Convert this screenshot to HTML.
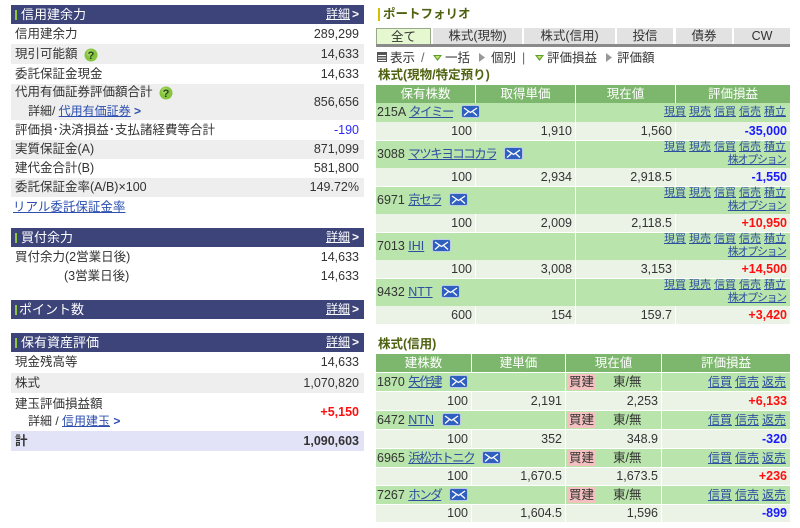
<!DOCTYPE html>
<html><head><meta charset="utf-8">
<style>
*{box-sizing:border-box}
body{margin:0;width:800px;height:528px;background:#fff;position:relative;overflow:hidden;font-family:"Liberation Sans","Noto Sans CJK JP",sans-serif;font-size:12.5px;color:#333}
.a{position:absolute;white-space:nowrap}
.hd{position:absolute;left:11px;width:353px;height:19px;background:#3c4479;color:#fff}
.hd .bar{position:absolute;left:4px;top:5px;width:2px;height:10px;background:#8dc63f}
.hd .t{position:absolute;left:10px;top:0;line-height:19px;font-size:13px}
.hd .d{position:absolute;right:14px;top:0;line-height:19px;font-size:12px;text-decoration:underline}
.hd .c{position:absolute;right:5px;top:0;line-height:19px;font-size:12px;font-weight:bold}
.r{position:absolute;left:11px;width:353px}
.r .l{position:absolute;left:4px;top:0}
.r .v{position:absolute;right:5px;top:0}
.g{background:#eeeeee}
.lk{color:#2c4fb0;text-decoration:underline}
.q{display:inline-block;vertical-align:middle;margin-left:6px}
.tab{position:absolute;top:28px;height:16px;line-height:16px;text-align:center;background:#e2e2e2;font-size:12.5px;color:#333}
.th{position:absolute;height:18px;line-height:18px;background:#7db76d;color:#fff;text-align:center;font-size:12.5px}
.nm{position:absolute;background:#b9e4ab}
.vl{position:absolute;background:#ebf3e7;text-align:right;padding-right:3px;font-size:12.5px}
.nt{position:absolute;left:1px;font-size:12.5px}
.nt .lk{color:#2c4fa0}
.nt .jk{letter-spacing:-1.5px}
.lnk{position:absolute;right:4px;font-size:11px;color:#2c4fa0;text-align:right}
.lnk span{text-decoration:underline;margin-left:3px}
.mail{display:inline-block;vertical-align:middle;margin-left:8px;margin-top:-2px}
.blue{color:#1a1aff;font-weight:bold}
.red{color:#ff1010;font-weight:bold}
.kd{position:absolute;background:#f4c0c0;color:#333;font-size:12.5px;padding:0 1px}
</style></head><body>

<!-- LEFT PANEL -->
<div class="hd" style="top:5px"><div class="bar"></div><div class="t">信用建余力</div><div class="d">詳細</div><div class="c">&gt;</div></div>
<div class="r" style="top:24px;height:20px;line-height:20px"><span class="l">信用建余力</span><span class="v">289,299</span></div>
<div class="r g" style="top:44px;height:20px;line-height:20px"><span class="l">現引可能額<svg class="q" width="14" height="14" viewBox="0 0 14 14"><circle cx="7" cy="7" r="6.5" fill="#86c440"/><circle cx="6" cy="5" r="3.5" fill="#b4e070" opacity=".6"/><text x="7" y="11" text-anchor="middle" font-family="Liberation Sans" font-weight="bold" font-size="11" fill="#24421a">?</text></svg></span><span class="v">14,633</span></div>
<div class="r" style="top:64px;height:20px;line-height:20px"><span class="l">委託保証金現金</span><span class="v">14,633</span></div>
<div class="r g" style="top:84px;height:36px">
 <span class="l" style="top:0;line-height:17px">代用有価証券評価額合計<svg class="q" width="14" height="14" viewBox="0 0 14 14"><circle cx="7" cy="7" r="6.5" fill="#86c440"/><circle cx="6" cy="5" r="3.5" fill="#b4e070" opacity=".6"/><text x="7" y="11" text-anchor="middle" font-family="Liberation Sans" font-weight="bold" font-size="11" fill="#24421a">?</text></svg></span>
 <span class="l" style="left:17px;top:19px;line-height:17px;font-size:12px">詳細/ <span class="lk">代用有価証券</span> <b style="color:#2c4fb0">&gt;</b></span>
 <span class="v" style="line-height:36px">856,656</span></div>
<div class="r" style="top:120px;height:20px;line-height:20px"><span class="l">評価損･決済損益･支払諸経費等合計</span><span class="v" style="color:#2a2aff">-190</span></div>
<div class="r g" style="top:140px;height:19px;line-height:19px"><span class="l">実質保証金(A)</span><span class="v">871,099</span></div>
<div class="r" style="top:159px;height:19px;line-height:19px"><span class="l">建代金合計(B)</span><span class="v">581,800</span></div>
<div class="r g" style="top:178px;height:19px;line-height:19px"><span class="l">委託保証金率(A/B)×100</span><span class="v">149.72%</span></div>
<div class="r" style="top:198px;height:19px;line-height:19px"><span class="l lk" style="left:2px">リアル委託保証金率</span></div>

<div class="hd" style="top:228px"><div class="bar"></div><div class="t">買付余力</div><div class="d">詳細</div><div class="c">&gt;</div></div>
<div class="r" style="top:248px;height:19px;line-height:19px"><span class="l">買付余力(2営業日後)</span><span class="v">14,633</span></div>
<div class="r" style="top:267px;height:19px;line-height:19px"><span class="l" style="left:53px">(3営業日後)</span><span class="v">14,633</span></div>

<div class="hd" style="top:300px"><div class="bar"></div><div class="t" style="left:8px">ポイント数</div><div class="d">詳細</div><div class="c">&gt;</div></div>

<div class="hd" style="top:333px"><div class="bar"></div><div class="t">保有資産評価</div><div class="d">詳細</div><div class="c">&gt;</div></div>
<div class="r" style="top:352px;height:21px;line-height:21px"><span class="l">現金残高等</span><span class="v">14,633</span></div>
<div class="r g" style="top:373px;height:20px;line-height:20px"><span class="l">株式</span><span class="v">1,070,820</span></div>
<div class="r" style="top:393px;height:38px">
 <span class="l" style="line-height:22px">建玉評価損益額</span>
 <span class="l" style="left:17px;top:20px;line-height:17px;font-size:12px">詳細 / <span class="lk">信用建玉</span> <b style="color:#2c4fb0">&gt;</b></span>
 <span class="v red" style="line-height:38px">+5,150</span></div>
<div class="r" style="top:431px;height:20px;line-height:20px;background:#e3e3f8;font-weight:bold"><span class="l">計</span><span class="v">1,090,603</span></div>

<!-- RIGHT PANEL -->
<div class="a" style="left:378px;top:8px;width:2px;height:13px;background:#d4c000"></div>
<div class="a" style="left:383px;top:6px;line-height:17px;font-weight:bold;color:#4e6210;font-size:12.5px">ポートフォリオ</div>

<div class="tab" style="left:376px;width:55px;background:#e6f8d0;border:1px solid #9aa88a;border-bottom:none">全て</div>
<div class="tab" style="left:433px;width:89px">株式(現物)</div>
<div class="tab" style="left:524px;width:91px">株式(信用)</div>
<div class="tab" style="left:617px;width:56px">投信</div>
<div class="tab" style="left:676px;width:56px">債券</div>
<div class="tab" style="left:734px;width:56px">CW</div>
<div class="a" style="left:376px;top:44px;width:414px;height:3px;background:#8a8a8a"></div>

<svg class="a" style="left:377px;top:52px" width="10" height="10" viewBox="0 0 10 10"><rect width="10" height="10" fill="#555"/><path d="M1 3.5H9M1 6H9M1 8.5H9" stroke="#fff" stroke-width="1"/></svg>
<div class="a" style="left:390px;top:50px;line-height:16px">表示</div>
<div class="a" style="left:421px;top:50px;line-height:16px;color:#666">/</div>
<svg class="a" style="left:433px;top:55px" width="9" height="6" viewBox="0 0 9 6"><path d="M0 0H9L4.5 6Z" fill="#5a9e2a"/><path d="M2 1H7L4.5 4Z" fill="#c8e070"/></svg>
<div class="a" style="left:445px;top:50px;line-height:16px">一括</div>
<svg class="a" style="left:479px;top:53px" width="6" height="9" viewBox="0 0 6 9"><path d="M0 0L6 4.5L0 9Z" fill="#999"/></svg>
<div class="a" style="left:491px;top:50px;line-height:16px">個別</div>
<div class="a" style="left:522px;top:50px;line-height:16px;color:#666">|</div>
<svg class="a" style="left:535px;top:55px" width="9" height="6" viewBox="0 0 9 6"><path d="M0 0H9L4.5 6Z" fill="#5a9e2a"/><path d="M2 1H7L4.5 4Z" fill="#c8e070"/></svg>
<div class="a" style="left:547px;top:50px;line-height:16px">評価損益</div>
<svg class="a" style="left:606px;top:53px" width="6" height="9" viewBox="0 0 6 9"><path d="M0 0L6 4.5L0 9Z" fill="#999"/></svg>
<div class="a" style="left:617px;top:50px;line-height:16px">評価額</div>

<div class="a" style="left:378px;top:67px;line-height:17px;font-weight:bold;color:#4e6210">株式(現物/特定預り)</div>

<!-- table 1 header -->
<div class="th" style="left:376px;top:85px;width:99px">保有株数</div>
<div class="th" style="left:476px;top:85px;width:99px">取得単価</div>
<div class="th" style="left:576px;top:85px;width:99px">現在値</div>
<div class="th" style="left:676px;top:85px;width:114px">評価損益</div>

<!-- 215A -->
<div class="nm" style="left:376px;top:103px;width:199px;height:19px"><div class="nt" style="line-height:19px">215A <span class="lk jk">タイミー</span><svg class="mail" width="19" height="13" viewBox="0 0 19 13"><rect x=".5" y=".5" width="18" height="12" rx="2" fill="#2f5fbf" stroke="#b8c8e8"/><path d="M3 3L9.5 7.5L16 3M3 10.5L7.5 6.5M16 10.5L11.5 6.5" stroke="#fff" stroke-width="1.3" fill="none"/></svg></div></div>
<div class="nm" style="left:576px;top:103px;width:214px;height:19px"><div class="lnk" style="line-height:19px"><span>現買</span><span>現売</span><span>信買</span><span>信売</span><span>積立</span></div></div>
<div class="vl" style="left:376px;top:122px;width:99px;height:18px;line-height:18px">100</div>
<div class="vl" style="left:476px;top:122px;width:99px;height:18px;line-height:18px">1,910</div>
<div class="vl" style="left:576px;top:122px;width:99px;height:18px;line-height:18px">1,560</div>
<div class="vl blue" style="left:676px;top:122px;width:114px;height:18px;line-height:18px">-35,000</div>

<!-- 3088 -->
<div class="nm" style="left:376px;top:141px;width:199px;height:27px"><div class="nt" style="line-height:27px">3088 <span class="lk jk">マツキヨココカラ</span><svg class="mail" width="19" height="13" viewBox="0 0 19 13"><rect x=".5" y=".5" width="18" height="12" rx="2" fill="#2f5fbf" stroke="#b8c8e8"/><path d="M3 3L9.5 7.5L16 3M3 10.5L7.5 6.5M16 10.5L11.5 6.5" stroke="#fff" stroke-width="1.3" fill="none"/></svg></div></div>
<div class="nm" style="left:576px;top:141px;width:214px;height:27px"><div class="lnk" style="top:0;line-height:13px"><span>現買</span><span>現売</span><span>信買</span><span>信売</span><span>積立</span><br><span style="letter-spacing:-1.3px">株オプション</span></div></div>
<div class="vl" style="left:376px;top:168px;width:99px;height:18px;line-height:18px">100</div>
<div class="vl" style="left:476px;top:168px;width:99px;height:18px;line-height:18px">2,934</div>
<div class="vl" style="left:576px;top:168px;width:99px;height:18px;line-height:18px">2,918.5</div>
<div class="vl blue" style="left:676px;top:168px;width:114px;height:18px;line-height:18px">-1,550</div>

<!-- 6971 -->
<div class="nm" style="left:376px;top:187px;width:199px;height:27px"><div class="nt" style="line-height:27px">6971 <span class="lk jk">京セラ</span><svg class="mail" width="19" height="13" viewBox="0 0 19 13"><rect x=".5" y=".5" width="18" height="12" rx="2" fill="#2f5fbf" stroke="#b8c8e8"/><path d="M3 3L9.5 7.5L16 3M3 10.5L7.5 6.5M16 10.5L11.5 6.5" stroke="#fff" stroke-width="1.3" fill="none"/></svg></div></div>
<div class="nm" style="left:576px;top:187px;width:214px;height:27px"><div class="lnk" style="top:0;line-height:13px"><span>現買</span><span>現売</span><span>信買</span><span>信売</span><span>積立</span><br><span style="letter-spacing:-1.3px">株オプション</span></div></div>
<div class="vl" style="left:376px;top:214px;width:99px;height:18px;line-height:18px">100</div>
<div class="vl" style="left:476px;top:214px;width:99px;height:18px;line-height:18px">2,009</div>
<div class="vl" style="left:576px;top:214px;width:99px;height:18px;line-height:18px">2,118.5</div>
<div class="vl red" style="left:676px;top:214px;width:114px;height:18px;line-height:18px">+10,950</div>

<!-- 7013 -->
<div class="nm" style="left:376px;top:233px;width:199px;height:27px"><div class="nt" style="line-height:27px">7013 <span class="lk">IHI</span><svg class="mail" width="19" height="13" viewBox="0 0 19 13"><rect x=".5" y=".5" width="18" height="12" rx="2" fill="#2f5fbf" stroke="#b8c8e8"/><path d="M3 3L9.5 7.5L16 3M3 10.5L7.5 6.5M16 10.5L11.5 6.5" stroke="#fff" stroke-width="1.3" fill="none"/></svg></div></div>
<div class="nm" style="left:576px;top:233px;width:214px;height:27px"><div class="lnk" style="top:0;line-height:13px"><span>現買</span><span>現売</span><span>信買</span><span>信売</span><span>積立</span><br><span style="letter-spacing:-1.3px">株オプション</span></div></div>
<div class="vl" style="left:376px;top:260px;width:99px;height:18px;line-height:18px">100</div>
<div class="vl" style="left:476px;top:260px;width:99px;height:18px;line-height:18px">3,008</div>
<div class="vl" style="left:576px;top:260px;width:99px;height:18px;line-height:18px">3,153</div>
<div class="vl red" style="left:676px;top:260px;width:114px;height:18px;line-height:18px">+14,500</div>

<!-- 9432 -->
<div class="nm" style="left:376px;top:279px;width:199px;height:27px"><div class="nt" style="line-height:27px">9432 <span class="lk">NTT</span><svg class="mail" width="19" height="13" viewBox="0 0 19 13"><rect x=".5" y=".5" width="18" height="12" rx="2" fill="#2f5fbf" stroke="#b8c8e8"/><path d="M3 3L9.5 7.5L16 3M3 10.5L7.5 6.5M16 10.5L11.5 6.5" stroke="#fff" stroke-width="1.3" fill="none"/></svg></div></div>
<div class="nm" style="left:576px;top:279px;width:214px;height:27px"><div class="lnk" style="top:0;line-height:13px"><span>現買</span><span>現売</span><span>信買</span><span>信売</span><span>積立</span><br><span style="letter-spacing:-1.3px">株オプション</span></div></div>
<div class="vl" style="left:376px;top:306px;width:99px;height:18px;line-height:18px">600</div>
<div class="vl" style="left:476px;top:306px;width:99px;height:18px;line-height:18px">154</div>
<div class="vl" style="left:576px;top:306px;width:99px;height:18px;line-height:18px">159.7</div>
<div class="vl red" style="left:676px;top:306px;width:114px;height:18px;line-height:18px">+3,420</div>

<div class="a" style="left:378px;top:336px;line-height:17px;font-weight:bold;color:#4e6210">株式(信用)</div>

<!-- table 2 header -->
<div class="th" style="left:376px;top:354px;width:95px">建株数</div>
<div class="th" style="left:472px;top:354px;width:93px">建単価</div>
<div class="th" style="left:566px;top:354px;width:95px">現在値</div>
<div class="th" style="left:662px;top:354px;width:128px">評価損益</div>

<!-- 1870 -->
<div class="nm" style="left:376px;top:373px;width:189px;height:18px"><div class="nt" style="line-height:18px">1870 <span class="lk jk">矢作建</span><svg class="mail" width="19" height="13" viewBox="0 0 19 13"><rect x=".5" y=".5" width="18" height="12" rx="2" fill="#2f5fbf" stroke="#b8c8e8"/><path d="M3 3L9.5 7.5L16 3M3 10.5L7.5 6.5M16 10.5L11.5 6.5" stroke="#fff" stroke-width="1.3" fill="none"/></svg></div></div>
<div class="nm" style="left:566px;top:373px;width:95px;height:18px"><span class="kd" style="left:2px;top:1px;line-height:16px">買建</span><span class="a" style="left:47px;line-height:18px">東/無</span></div>
<div class="nm" style="left:662px;top:373px;width:128px;height:18px"><div class="lnk" style="line-height:18px;font-size:12px"><span>信買</span><span>信売</span><span>返売</span></div></div>
<div class="vl" style="left:376px;top:392px;width:95px;height:18px;line-height:18px">100</div>
<div class="vl" style="left:472px;top:392px;width:93px;height:18px;line-height:18px">2,191</div>
<div class="vl" style="left:566px;top:392px;width:95px;height:18px;line-height:18px">2,253</div>
<div class="vl red" style="left:662px;top:392px;width:128px;height:18px;line-height:18px">+6,133</div>

<!-- 6472 -->
<div class="nm" style="left:376px;top:411px;width:189px;height:18px"><div class="nt" style="line-height:18px">6472 <span class="lk">NTN</span><svg class="mail" width="19" height="13" viewBox="0 0 19 13"><rect x=".5" y=".5" width="18" height="12" rx="2" fill="#2f5fbf" stroke="#b8c8e8"/><path d="M3 3L9.5 7.5L16 3M3 10.5L7.5 6.5M16 10.5L11.5 6.5" stroke="#fff" stroke-width="1.3" fill="none"/></svg></div></div>
<div class="nm" style="left:566px;top:411px;width:95px;height:18px"><span class="kd" style="left:2px;top:1px;line-height:16px">買建</span><span class="a" style="left:47px;line-height:18px">東/無</span></div>
<div class="nm" style="left:662px;top:411px;width:128px;height:18px"><div class="lnk" style="line-height:18px;font-size:12px"><span>信買</span><span>信売</span><span>返売</span></div></div>
<div class="vl" style="left:376px;top:430px;width:95px;height:18px;line-height:18px">100</div>
<div class="vl" style="left:472px;top:430px;width:93px;height:18px;line-height:18px">352</div>
<div class="vl" style="left:566px;top:430px;width:95px;height:18px;line-height:18px">348.9</div>
<div class="vl blue" style="left:662px;top:430px;width:128px;height:18px;line-height:18px">-320</div>

<!-- 6965 -->
<div class="nm" style="left:376px;top:449px;width:189px;height:18px"><div class="nt" style="line-height:18px">6965 <span class="lk jk">浜松ホトニク</span><svg class="mail" width="19" height="13" viewBox="0 0 19 13"><rect x=".5" y=".5" width="18" height="12" rx="2" fill="#2f5fbf" stroke="#b8c8e8"/><path d="M3 3L9.5 7.5L16 3M3 10.5L7.5 6.5M16 10.5L11.5 6.5" stroke="#fff" stroke-width="1.3" fill="none"/></svg></div></div>
<div class="nm" style="left:566px;top:449px;width:95px;height:18px"><span class="kd" style="left:2px;top:1px;line-height:16px">買建</span><span class="a" style="left:47px;line-height:18px">東/無</span></div>
<div class="nm" style="left:662px;top:449px;width:128px;height:18px"><div class="lnk" style="line-height:18px;font-size:12px"><span>信買</span><span>信売</span><span>返売</span></div></div>
<div class="vl" style="left:376px;top:468px;width:95px;height:17px;line-height:17px">100</div>
<div class="vl" style="left:472px;top:468px;width:93px;height:17px;line-height:17px">1,670.5</div>
<div class="vl" style="left:566px;top:468px;width:95px;height:17px;line-height:17px">1,673.5</div>
<div class="vl red" style="left:662px;top:468px;width:128px;height:17px;line-height:17px">+236</div>

<!-- 7267 -->
<div class="nm" style="left:376px;top:486px;width:189px;height:18px"><div class="nt" style="line-height:18px">7267 <span class="lk jk">ホンダ</span><svg class="mail" width="19" height="13" viewBox="0 0 19 13"><rect x=".5" y=".5" width="18" height="12" rx="2" fill="#2f5fbf" stroke="#b8c8e8"/><path d="M3 3L9.5 7.5L16 3M3 10.5L7.5 6.5M16 10.5L11.5 6.5" stroke="#fff" stroke-width="1.3" fill="none"/></svg></div></div>
<div class="nm" style="left:566px;top:486px;width:95px;height:18px"><span class="kd" style="left:2px;top:1px;line-height:16px">買建</span><span class="a" style="left:47px;line-height:18px">東/無</span></div>
<div class="nm" style="left:662px;top:486px;width:128px;height:18px"><div class="lnk" style="line-height:18px;font-size:12px"><span>信買</span><span>信売</span><span>返売</span></div></div>
<div class="vl" style="left:376px;top:505px;width:95px;height:17px;line-height:17px">100</div>
<div class="vl" style="left:472px;top:505px;width:93px;height:17px;line-height:17px">1,604.5</div>
<div class="vl" style="left:566px;top:505px;width:95px;height:17px;line-height:17px">1,596</div>
<div class="vl blue" style="left:662px;top:505px;width:128px;height:17px;line-height:17px">-899</div>

</body></html>
